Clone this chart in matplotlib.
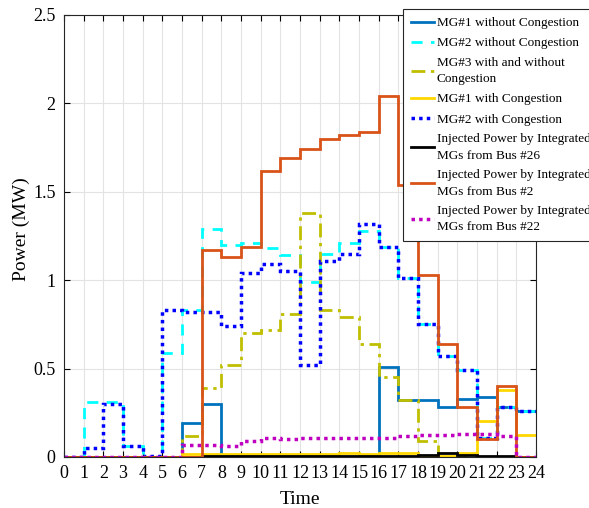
import numpy as np
import matplotlib
matplotlib.use("Agg")
import matplotlib.pyplot as plt

plt.rcParams['font.family'] = ['Liberation Serif', 'DejaVu Serif']
plt.rcParams['mathtext.fontset'] = 'stix'

hours = np.arange(25)

mg1_without = [0, 0, 0, 0, 0, 0, 0.19, 0.30, 0, 0, 0, 0, 0, 0, 0, 0,
               0.51, 0.32, 0.32, 0.285, 0.33, 0.34, 0.28, 0.26]
mg2_without = [0, 0.31, 0.31, 0.06, 0, 0.59, 0.83, 1.29, 1.20, 1.21, 1.18, 1.14,
               0.99, 1.15, 1.21, 1.28, 1.19, 1.01, 0.75, 0.57, 0.49, 0.11, 0.28, 0.26]
mg3 = [0, 0, 0, 0, 0, 0, 0.12, 0.39, 0.52, 0.70, 0.72, 0.81, 1.38, 0.83, 0.79,
       0.64, 0.45, 0.32, 0.09, 0, 0, 0, 0, 0]
mg1_with = [0, 0, 0, 0, 0, 0, 0.015, 0.015, 0.015, 0.015, 0.015, 0.015, 0.015,
            0.015, 0.02, 0.015, 0.02, 0.023, 0.005, 0.005, 0.02, 0.205, 0.38, 0.124]
mg2_with = [0, 0.05, 0.30, 0.06, 0.005, 0.83, 0.82, 0.82, 0.74, 1.04, 1.09, 1.05,
            0.52, 1.11, 1.15, 1.32, 1.19, 1.01, 0.75, 0.57, 0.49, 0.11, 0.28, 0.26]
bus26 = [0, 0, 0, 0, 0, 0, 0, 0.005, 0.005, 0.005, 0.005, 0.005, 0.005, 0.005,
         0.005, 0.005, 0.005, 0.005, 0.01, 0.02, 0.01, 0.005, 0.005, 0]
bus2 = [0, 0, 0, 0, 0, 0, 0, 1.17, 1.13, 1.19, 1.62, 1.69, 1.74, 1.80, 1.82,
        1.84, 2.04, 1.54, 1.03, 0.64, 0.28, 0.10, 0.40, 0]
bus22 = [0, 0, 0, 0, 0, 0, 0.07, 0.07, 0.065, 0.09, 0.105, 0.10, 0.105, 0.105,
         0.105, 0.105, 0.11, 0.12, 0.123, 0.127, 0.13, 0.13, 0.12, 0]

labels = ["MG#1 without Congestion",
          "MG#2 without Congestion",
          "MG#3 with and without\nCongestion",
          "MG#1 with Congestion",
          "MG#2 with Congestion",
          "Injected Power by Integrated\nMGs from Bus #26",
          "Injected Power by Integrated\nMGs from Bus #2",
          "Injected Power by Integrated\nMGs from Bus #22"]

series = [mg1_without, mg2_without, mg3, mg1_with, mg2_with, bus26, bus2, bus22]
colors = ['#0072BD', '#00FFFF', '#BFBF00', '#FFD700', '#0000FF', '#000000', '#D95319', '#BF00BF']
styles = ['-', (0, (4, 3)), (0, (5, 2, 1.2, 2)), '-', (0, (1, 1.2)), '-', '-', (0, (1, 1.2))]
widths = [2.0, 2.0, 2.0, 2.0, 2.5, 2.0, 2.0, 2.5]

fig = plt.figure(figsize=(5.89, 5.08), dpi=100)
ax = fig.add_axes([0.1087, 0.1004, 0.8013, 0.8701])

handles = []
for vals, c, ls, lw, lab in zip(series, colors, styles, widths, labels):
    ax.stairs(vals, hours, baseline=None, color=c, linestyle=ls, linewidth=lw, label=lab)
    handles.append(plt.Line2D([], [], color=c, linestyle=ls, linewidth=lw))

ax.set_xlim(0, 24)
ax.set_ylim(0, 2.5)
ax.set_xticks(hours)
ax.set_xticklabels([str(h) for h in hours])
ax.set_yticks([0, 0.5, 1, 1.5, 2, 2.5])
ax.set_yticklabels(['0', '0.5', '1', '1.5', '2', '2.5'])
ax.grid(True, color='#E3E3E3', linewidth=0.8)
ax.set_axisbelow(True)
ax.tick_params(direction='in', top=True, right=True, labelsize=13, length=4, width=0.8)
ax.tick_params(axis='x', pad=6)
ax.tick_params(axis='y', pad=6)
for s in ax.spines.values():
    s.set_color('#262626')
    s.set_linewidth(0.8)
ax.set_xlabel('Time', fontsize=14, labelpad=6)
ax.set_ylabel('Power (MW)', fontsize=14, labelpad=3)
ax.yaxis.set_label_coords(-0.072, 0.515)

leg = fig.legend(handles, labels, loc='upper left', bbox_to_anchor=(403/589, 1 - 9/508),
                 fontsize=9.5, frameon=True, fancybox=False, handlelength=1.75,
                 handletextpad=0.2, borderpad=0.6, labelspacing=0.6, borderaxespad=0)
for t in leg.get_texts():
    t.set_linespacing(1.45)
leg.get_frame().set_edgecolor('#262626')
leg.get_frame().set_linewidth(0.8)
leg.get_frame().set_alpha(1)

fig.savefig('out.png', dpi=100)
